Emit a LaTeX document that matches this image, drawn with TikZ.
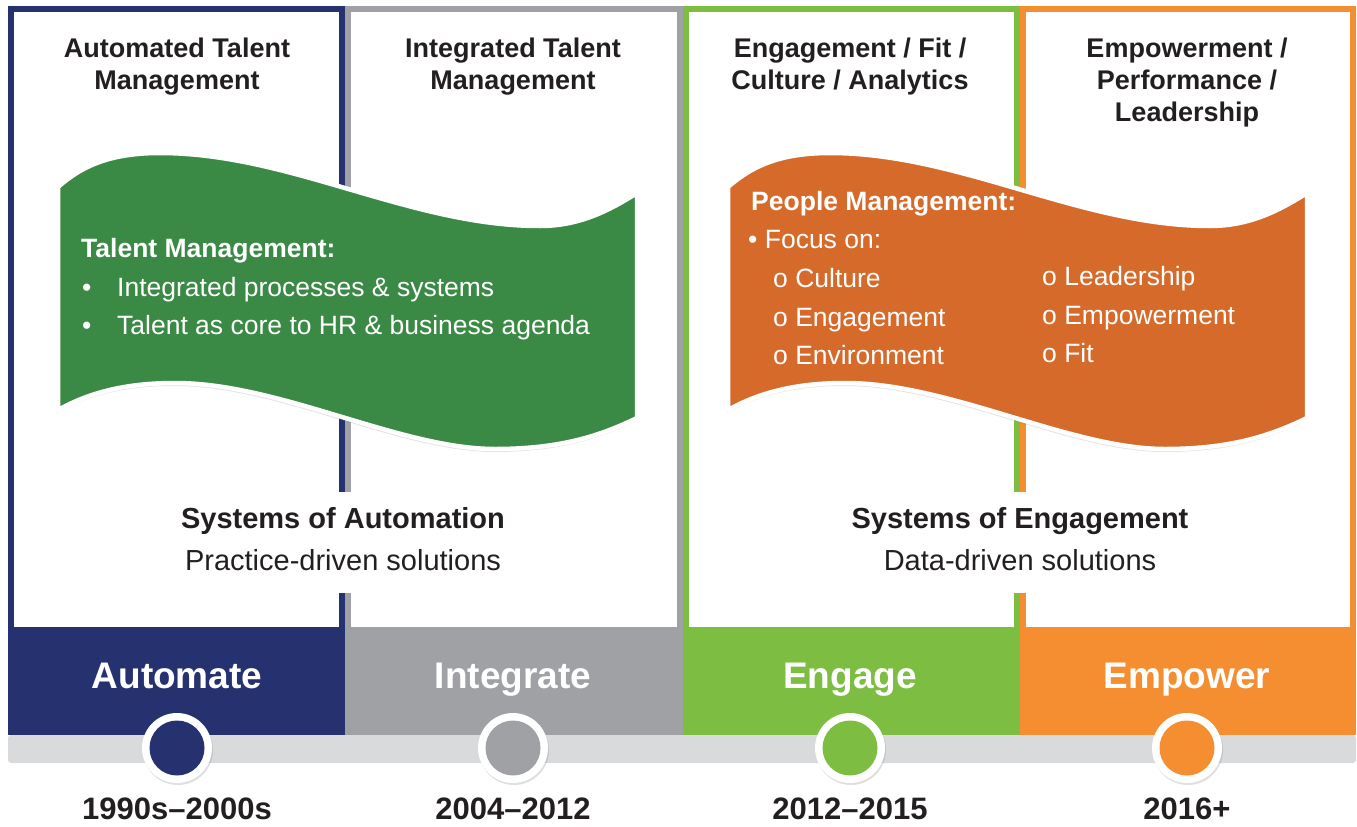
\documentclass[tikz,border=0pt]{standalone}
\usepackage{fontspec}
\setmainfont{Liberation Sans}
\usetikzlibrary{shadows}

\definecolor{navy}{RGB}{38,49,112}
\definecolor{midgray}{RGB}{160,161,165}
\definecolor{lightgreen}{RGB}{125,190,66}
\definecolor{lightorange}{RGB}{244,142,48}
\definecolor{flaggreen}{RGB}{58,138,69}
\definecolor{flagorange}{RGB}{213,106,42}
\definecolor{barcol}{RGB}{217,218,220}
\definecolor{txt}{RGB}{35,31,32}

\tikzstyle{title}=[font=\bfseries\fontsize{27}{32}\selectfont, align=center, text=txt, anchor=base]
\tikzstyle{system}=[font=\bfseries\fontsize{29}{32}\selectfont, text=txt, anchor=base]
\tikzstyle{midtext}=[font=\fontsize{29}{32}\selectfont, text=txt, anchor=base]
\tikzstyle{phase}=[font=\bfseries\fontsize{37}{40}\selectfont, text=white, anchor=base]
\tikzstyle{year}=[font=\bfseries\fontsize{31}{34}\selectfont, text=txt, anchor=base]
\tikzstyle{flagtext}=[font=\fontsize{26.5}{30}\selectfont, text=white, anchor=base west, inner sep=0pt]
\tikzstyle{flaghead}=[flagtext, font=\bfseries\fontsize{26.5}{30}\selectfont]
\tikzstyle{flag}=[draw=white, line width=4.5pt, line join=round,
  drop shadow={opacity=0.22, shadow xshift=-1pt, shadow yshift=-3pt}]
\tikzstyle{ring}=[circle, fill=white, minimum size=70pt, inner sep=0pt,
  drop shadow={opacity=0.25, shadow xshift=1pt, shadow yshift=-2pt}]
\tikzstyle{dot}=[circle, minimum size=55pt, inner sep=0pt]

\newcommand{\flagpath}{(58,187) .. controls (82,166) and (110,153) .. (160,153)
  .. controls (290,153) and (410,226) .. (540,226)
  .. controls (580,226) and (610,210) .. (637,193)
  -- (637,418)
  .. controls (600,436) and (560,449) .. (495,449)
  .. controls (400,449) and (280,383) .. (175,383)
  .. controls (120,383) and (85,395) .. (58,410) -- cycle}

\begin{document}
\begin{tikzpicture}[x=1pt, y=-1pt]
  \useasboundingbox (0,0) rectangle (1357,827);

  % Columns
  \foreach \x/\xx/\c in {8/345/navy, 345/683/midgray, 683/1020/lightgreen, 1020/1356/lightorange} {
    \fill[\c] (\x,6) rectangle (\xx,735);
    \fill[white] (\x+6,12) rectangle (\xx-6,627);
  }
  % gaps behind the middle texts
  \fill[white] (335,492) rectangle (355,593);
  \fill[white] (1010,492) rectangle (1030,593);

  % Timeline
  \fill[barcol, rounded corners=3pt] (8,735) rectangle (1356,763);
  \foreach \x/\c/\n in {177/navy/a, 513/midgray/b, 850/lightgreen/c, 1187/lightorange/d} {
    \node[ring] (ring\n) at (\x,748) {};
    \node[dot, fill=\c] (dot\n) at (ring\n) {};
  }

  % Phases
  \node[phase] (phA) at (177,688) {Automate};
  \node[phase] (phB) at (513,688) {Integrate};
  \node[phase] (phC) at (850,688) {Engage};
  \node[phase] (phD) at (1187,688) {Empower};

  \node[year] (yrA) at (177,819) {1990s--2000s};
  \node[year] (yrB) at (513,819) {2004--2012};
  \node[year] (yrC) at (850,819) {2012--2015};
  \node[year] (yrD) at (1187,819) {2016+};

  % Titles
  \node[title] (tA) at (177,89.5) {Automated Talent\\Management};
  \node[title] (tB) at (513,89.5) {Integrated Talent\\Management};
  \node[title] (tC) at (850,89.5) {Engagement / Fit /\\Culture / Analytics};
  \node[title] (tD) at (1187,121.5) {Empowerment /\\Performance /\\Leadership};

  % Flags
  \path[flag, fill=flaggreen] \flagpath;
  \begin{scope}[xshift=670pt]
    \path[flag, fill=flagorange] \flagpath;
  \end{scope}

  \node[flaghead] (tm) at (81,257) {Talent Management:};
  \node[flagtext] (tmb1) at (82,296.5) {•};
  \node[flagtext] (tm1) at (117,296.5) {Integrated processes \& systems};
  \node[flagtext] (tmb2) at (82,334.5) {•};
  \node[flagtext] (tm2) at (117,334.5) {Talent as core to HR \& business agenda};

  \node[flaghead] (pm) at (751,210) {People Management:};
  \node[flagtext] (pm0) at (748,248.5) {• Focus on:};
  \node[flagtext] (pm1) at (773,287) {o Culture};
  \node[flagtext] (pm2) at (773,326) {o Engagement};
  \node[flagtext] (pm3) at (773,364) {o Environment};
  \node[flagtext] (pm4) at (1042,285) {o Leadership};
  \node[flagtext] (pm5) at (1042,324) {o Empowerment};
  \node[flagtext] (pm6) at (1042,362) {o Fit};

  % Systems
  \node[system] (sA) at (343,528) {Systems of Automation};
  \node[midtext] (sA2) at (343,570) {Practice-driven solutions};
  \node[system] (sE) at (1020,528) {Systems of Engagement};
  \node[midtext] (sE2) at (1020,570) {Data-driven solutions};

\end{tikzpicture}
\end{document}
